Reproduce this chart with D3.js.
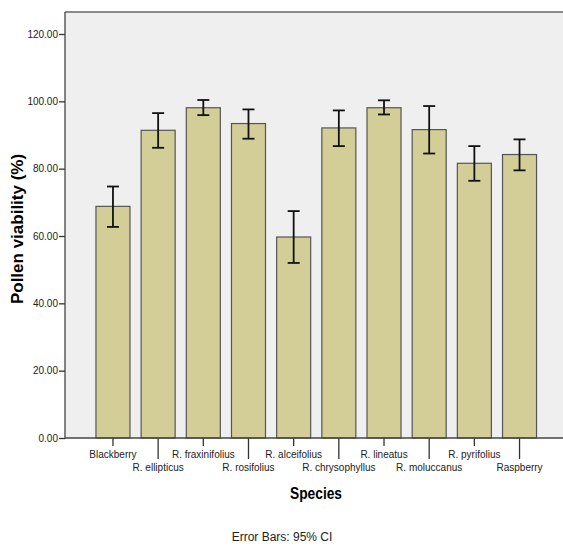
<!DOCTYPE html>
<html>
<head>
<meta charset="utf-8">
<script src="https://cdn.jsdelivr.net/npm/d3@7"></script>
<style>
  body { margin: 0; background: #fff; }
  svg { display: block; font-family: "Liberation Sans", Arial, sans-serif; }
</style>
</head>
<body>
<div class="chart"></div>
<script>
// species (x categories) and mean pollen viability with 95% CI
var species = ["Blackberry", "R. ellipticus", "R. fraxinifolius", "R. rosifolius", "R. alceifolius",
  "R. chrysophyllus", "R. lineatus", "R. moluccanus", "R. pyrifolius", "Raspberry"];
var means = [68.8, 91.4, 98.1, 93.4, 59.7, 92.1, 98.1, 91.6, 81.6, 84.2];
var ciLow = [62.7, 86.2, 95.9, 88.9, 52.0, 86.7, 96.1, 84.5, 76.4, 79.5];
var ciHigh = [74.7, 96.5, 100.4, 97.6, 67.4, 97.3, 100.3, 98.6, 86.7, 88.7];
var yTicks = [0, 20, 40, 60, 80, 100, 120];

var W = 563, H = 547;
var plot = { left: 65, top: 12, right: 567, bottom: 438 };

var svg = d3.select(".chart").append("svg")
  .attr("width", W)
  .attr("height", H);

var y = d3.scaleLinear().domain([0, 120]).range([plot.bottom, 34]);

var x = d3.scaleBand()
  .domain(species)
  .range([84.8, 547.7])
  .padding(0.247);

// plot background
svg.append("rect")
  .attr("x", plot.left)
  .attr("y", plot.top)
  .attr("width", plot.right - plot.left)
  .attr("height", plot.bottom - plot.top)
  .attr("fill", "#efefef");

// top border
svg.append("line")
  .attr("x1", plot.left).attr("x2", plot.right)
  .attr("y1", plot.top).attr("y2", plot.top)
  .attr("stroke", "#666").attr("stroke-width", 1.5);

// bars
svg.selectAll("rect.bar")
  .data(species)
  .enter()
  .append("rect")
  .attr("class", "bar")
  .attr("x", d => x(d))
  .attr("width", x.bandwidth())
  .attr("y", (d, i) => y(means[i]))
  .attr("height", (d, i) => y(0) - y(means[i]))
  .attr("fill", "#d3ce97")
  .attr("stroke", "#555")
  .attr("stroke-width", 1.2);

// error bars
var eb = svg.selectAll("g.err")
  .data(species)
  .enter()
  .append("g")
  .attr("class", "err")
  .attr("stroke", "#111")
  .attr("stroke-width", 1.8);
eb.append("line")
  .attr("x1", d => x(d) + x.bandwidth() / 2)
  .attr("x2", d => x(d) + x.bandwidth() / 2)
  .attr("y1", (d, i) => y(ciLow[i]))
  .attr("y2", (d, i) => y(ciHigh[i]));
[ciLow, ciHigh].forEach(arr => {
  eb.append("line")
    .attr("x1", d => x(d) + x.bandwidth() / 2 - 6)
    .attr("x2", d => x(d) + x.bandwidth() / 2 + 6)
    .attr("y1", (d, i) => y(arr[i]))
    .attr("y2", (d, i) => y(arr[i]));
});

// y axis
var yAxis = svg.append("g")
  .attr("transform", "translate(" + plot.left + ",0)")
  .call(d3.axisLeft(y).tickValues(yTicks).tickFormat(d3.format(".2f")).tickSize(6).tickSizeOuter(0));
yAxis.select(".domain").remove();
yAxis.selectAll(".tick line").attr("stroke", "#333").attr("stroke-width", 1.3);
yAxis.selectAll(".tick text")
  .attr("x", -7)
  .attr("fill", "#222")
  .style("font-size", "10px")
  .style("font-family", "Liberation Sans, Arial, sans-serif");

svg.append("line")
  .attr("x1", plot.left).attr("x2", plot.left)
  .attr("y1", plot.top).attr("y2", plot.bottom)
  .attr("stroke", "#444").attr("stroke-width", 1.3);

// x axis with staggered labels
var xAxis = svg.append("g")
  .attr("transform", "translate(0," + plot.bottom + ")")
  .call(d3.axisBottom(x).tickSizeOuter(0));
xAxis.select(".domain").remove();
xAxis.selectAll(".tick line")
  .attr("stroke", "#333")
  .attr("stroke-width", 1.3)
  .attr("y2", (d, i) => i % 2 === 0 ? 8 : 21);
xAxis.selectAll(".tick text")
  .attr("dy", null)
  .attr("y", (d, i) => i % 2 === 0 ? 19.5 : 33)
  .attr("fill", "#222")
  .style("font-size", "10px")
  .style("font-family", "Liberation Sans, Arial, sans-serif");

svg.append("line")
  .attr("x1", plot.left).attr("x2", plot.right)
  .attr("y1", plot.bottom).attr("y2", plot.bottom)
  .attr("stroke", "#444").attr("stroke-width", 1.5);

// axis titles
svg.append("text")
  .attr("transform", "translate(23,229) rotate(-90)")
  .attr("text-anchor", "middle")
  .style("font-size", "17px")
  .style("font-weight", "bold")
  .text("Pollen viability (%)");

svg.append("text")
  .attr("x", 316)
  .attr("y", 499)
  .attr("text-anchor", "middle")
  .attr("textLength", 52)
  .attr("lengthAdjust", "spacingAndGlyphs")
  .style("font-size", "16px")
  .style("font-weight", "bold")
  .text("Species");

svg.append("text")
  .attr("x", 282)
  .attr("y", 541)
  .attr("text-anchor", "middle")
  .attr("fill", "#222")
  .style("font-size", "12px")
  .text("Error Bars: 95% CI");
</script>
</body>
</html>
